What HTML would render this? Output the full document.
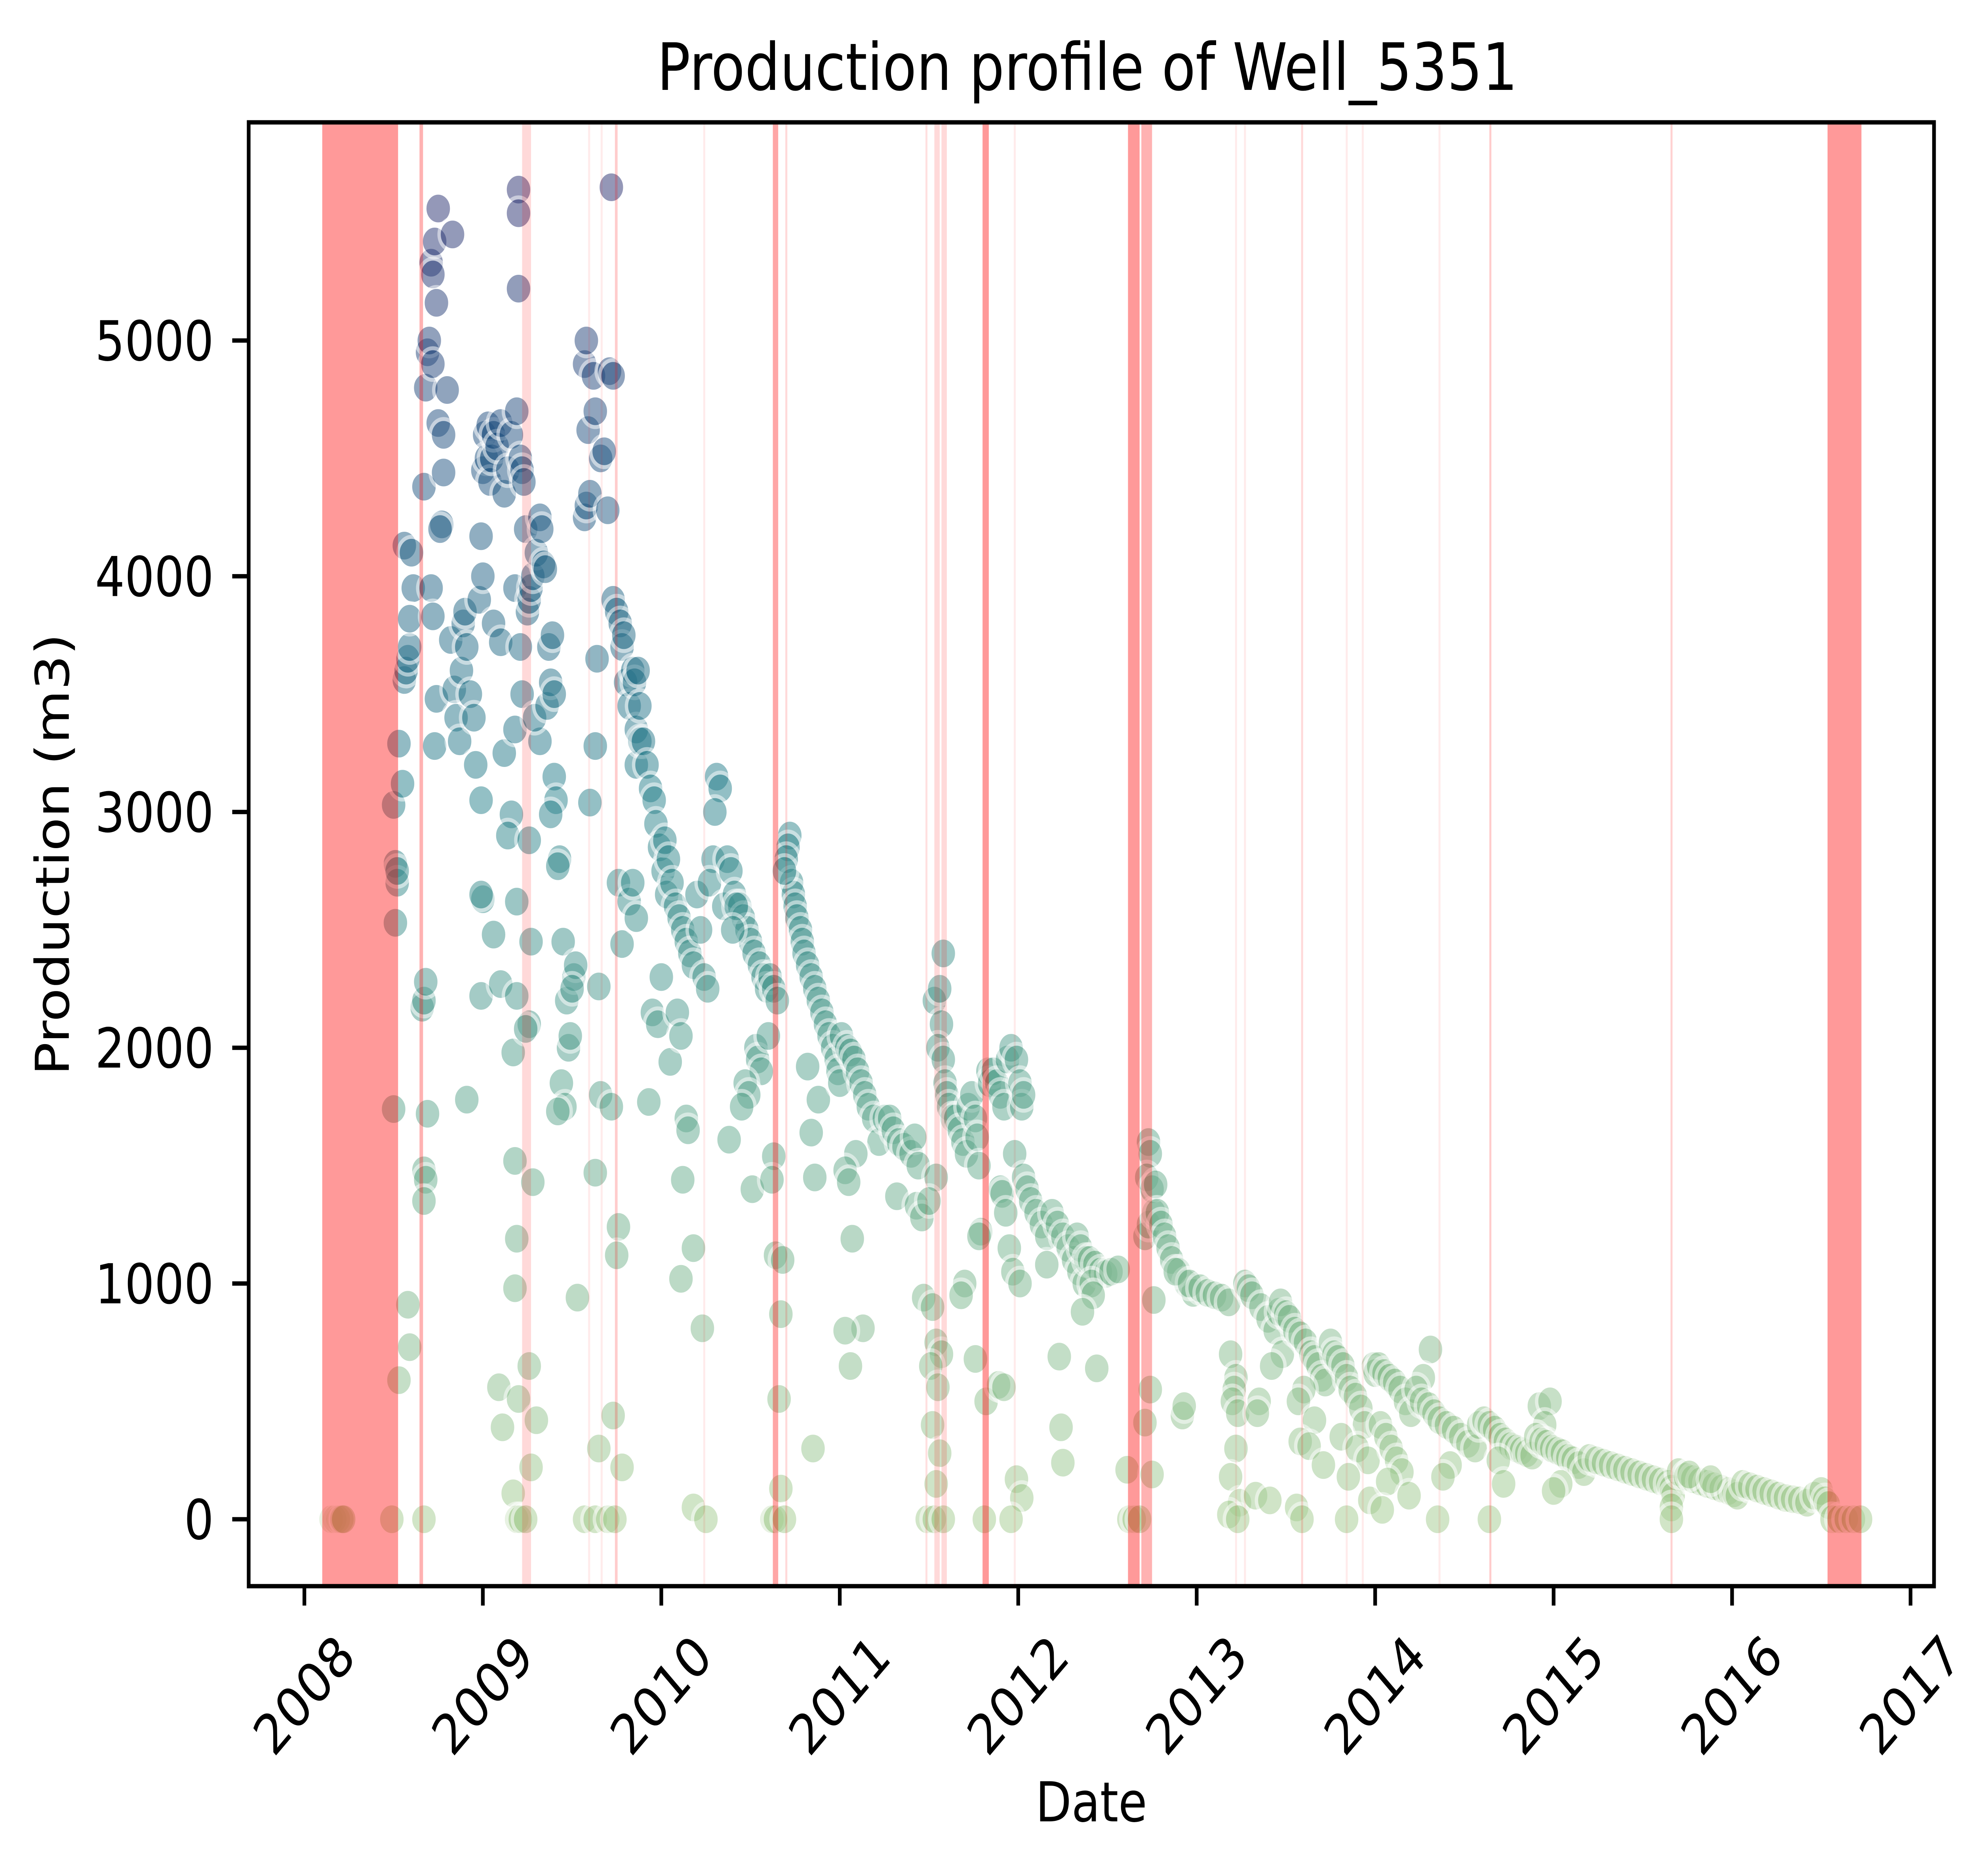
<!DOCTYPE html>
<html><head><meta charset="utf-8">
<style>
html,body{margin:0;padding:0;background:#fff;width:100%;height:100%;overflow:hidden;}
svg{display:block;width:100vw;height:100vh;}
text{font-family:"DejaVu Sans","Liberation Sans",sans-serif;fill:#000;}
</style></head>
<body>
<svg id="chart" xmlns="http://www.w3.org/2000/svg" viewBox="0 0 5900 4738" preserveAspectRatio="none">
<rect width="5900" height="4738" fill="#fff"/>
<text x="3240" y="227" font-size="165" text-anchor="middle">Production profile of Well_5351</text>
<g id="points"></g>
<g id="spans"></g>
<g id="axes"></g>
<text x="3252" y="4600" font-size="139" text-anchor="middle">Date</text>
<text x="0" y="0" font-size="139" text-anchor="middle" transform="translate(205,2158) rotate(-90)">Production (m3)</text>
</svg>
<script>
const yearTicks = [2008,2009,2010,2011,2012,2013,2014,2015,2016,2017];
const valueTicks = [0,1000,2000,3000,4000,5000];
const spanStarts = [2008.10,2008.645,2009.22,2009.59,2009.66,2009.74,2010.235,2010.625,2010.695,2011.48,2011.53,2011.57,2011.80,2011.975,2012.615,2012.69,2013.215,2013.265,2013.585,2013.835,2013.925,2014.355,2014.64,2015.655,2016.535];
const spanEnds   = [2008.525,2008.665,2009.27,2009.60,2009.67,2009.755,2010.245,2010.655,2010.705,2011.49,2011.56,2011.60,2011.835,2011.985,2012.68,2012.75,2013.225,2013.275,2013.595,2013.845,2013.935,2014.365,2014.65,2015.665,2016.725];
const spanAlpha  = [0.4,0.3,0.15,0.08,0.08,0.2,0.08,0.35,0.15,0.12,0.15,0.15,0.4,0.08,0.4,0.3,0.08,0.08,0.15,0.08,0.08,0.08,0.2,0.18,0.4];

const dates = [
2008.15,2008.17,2008.19,2008.21,2008.22,2008.49,
2008.50,2008.51,2008.52,2008.52,2008.51,2008.50,2008.53,2008.53,2008.55,2008.56,2008.57,2008.58,2008.59,2008.56,2008.60,2008.61,2008.59,2008.58,2008.59,
2008.66,2008.67,2008.68,2008.69,2008.67,2008.68,2008.67,2008.67,2008.67,2008.68,2008.69,2008.70,2008.71,2008.72,2008.73,2008.75,2008.83,2008.74,2008.72,2008.75,2008.78,2008.80,2008.78,2008.77,2008.76,2008.71,2008.74,2008.73,2008.72,
2008.82,2008.84,2008.85,2008.87,2008.88,2008.89,2008.90,2008.91,2008.93,2008.95,2008.91,2008.96,2008.99,2009.00,2008.99,2008.99,2009.00,2009.01,2009.03,2009.02,2008.99,2008.98,2009.00,
2009.04,2009.05,2009.06,2009.08,2009.10,2009.12,2009.14,2009.16,2009.19,2009.20,2009.20,2009.20,2009.18,2009.06,2009.10,2009.12,2009.18,2009.16,2009.14,2009.19,2009.06,2009.10,2009.17,2009.19,2009.18,2009.19,2009.18,2009.09,2009.11,2009.20,2009.17,2009.19,2009.21,
2009.21,2009.22,2009.23,2009.24,2009.25,2009.26,2009.27,2009.28,2009.30,2009.32,2009.33,2009.34,2009.35,2009.21,2009.22,2009.26,2009.27,2009.26,2009.24,2009.28,2009.26,2009.30,2009.27,2009.24,2009.32,2009.29,
2009.36,2009.38,2009.40,2009.40,2009.41,2009.38,2009.37,2009.39,2009.43,2009.42,2009.45,2009.47,2009.48,2009.44,2009.46,2009.42,2009.51,2009.52,2009.50,2009.49,2009.53,2009.57,
2009.57,2009.58,2009.60,2009.59,2009.57,2009.58,2009.62,2009.63,2009.66,2009.68,2009.70,2009.64,2009.63,2009.60,2009.65,2009.63,2009.66,2009.65,2009.63,2009.70,2009.72,2009.71,2009.73,
2009.73,2009.75,2009.77,2009.78,2009.80,2009.82,2009.84,2009.79,2009.86,2009.76,2009.82,2009.78,2009.72,2009.76,2009.75,2009.73,2009.78,2009.74,2009.86,2009.88,
2009.85,2009.87,2009.88,2009.90,2009.92,2009.94,2009.96,2009.97,2009.99,2010.01,2010.03,2009.84,2009.86,2010.00,2009.95,2009.98,2009.93,2010.05,2010.02,2010.04,
2010.06,2010.08,2010.10,2010.12,2010.14,2010.16,2010.18,2010.20,2010.22,2010.24,2010.26,2010.09,2010.11,2010.14,2010.15,2010.12,2010.18,2010.11,2010.23,2010.18,2010.25,2010.31,2010.33,2010.30,2010.29,2010.27,2010.35,
2010.37,2010.39,2010.41,2010.44,2010.46,2010.48,2010.50,2010.52,2010.55,2010.57,2010.59,2010.42,2010.40,2010.53,2010.54,2010.56,2010.47,2010.49,2010.45,2010.38,2010.51,2010.62,
2010.61,2010.63,2010.65,2010.60,2010.63,2010.62,2010.64,2010.68,2010.67,2010.66,2010.67,2010.64,2010.69,2010.72,2010.71,2010.70,2010.73,2010.74,2010.75,2010.69,
2010.76,2010.78,2010.79,2010.80,2010.82,2010.84,2010.86,2010.88,2010.90,2010.92,2010.94,2010.96,2010.98,2010.99,2010.88,2010.84,2010.86,2010.82,2010.85,2011.00,
2011.01,2011.04,2011.06,2011.08,2011.10,2011.12,2011.14,2011.16,2011.19,2011.22,2011.09,2011.03,2011.05,2011.07,2011.13,2011.03,2011.06,2011.25,
2011.28,2011.30,2011.33,2011.36,2011.40,2011.42,2011.44,2011.32,2011.43,2011.46,2011.47,2011.49,
2011.53,2011.56,2011.58,2011.57,2011.55,2011.58,2011.59,2011.60,2011.61,2011.63,2011.54,2011.50,2011.52,2011.54,2011.57,2011.51,2011.55,2011.52,2011.56,2011.54,2011.53,2011.58,
2011.65,2011.67,2011.69,2011.71,2011.72,2011.74,2011.76,2011.77,2011.78,2011.79,2011.78,2011.70,2011.68,2011.76,2011.82,2011.81,2011.83,2011.84,
2011.86,2011.88,2011.90,2011.92,2011.94,2011.96,2011.99,2012.01,2012.02,2012.03,2011.98,2011.90,2011.91,2011.93,2011.95,2011.97,2012.01,2011.89,2011.92,2011.99,2012.02,2011.96,
2012.03,2012.05,2012.07,2012.10,2012.13,2012.16,2012.19,2012.22,2012.25,2012.28,2012.31,2012.34,2012.37,2012.16,2012.23,2012.24,2012.25,2012.33,2012.35,2012.38,
2012.40,2012.43,2012.46,2012.49,2012.41,2012.42,2012.36,2012.44,2012.52,2012.56,
2012.62,2012.65,2012.68,2012.61,2012.73,2012.74,2012.72,2012.75,2012.71,2012.73,2012.76,2012.77,2012.76,2012.74,2012.75,2012.71,
2012.78,2012.80,2012.82,2012.84,2012.86,2012.90,2012.94,2012.98,2012.92,2012.93,2012.88,2012.96,
2013.02,2013.06,2013.10,2013.14,2013.18,2013.19,2013.22,2013.21,2013.20,2013.23,2013.22,2013.19,2013.24,2013.18,2013.23,
2013.27,2013.29,2013.31,2013.36,2013.40,2013.44,2013.46,2013.48,2013.42,2013.35,2013.34,2013.33,2013.41,2013.47,2013.50,
2013.52,2013.55,2013.58,2013.61,2013.64,2013.66,2013.68,2013.70,2013.72,2013.60,2013.57,2013.66,2013.58,2013.63,2013.71,2013.56,2013.59,
2013.75,2013.77,2013.79,2013.82,2013.84,2013.86,2013.89,2013.92,2013.94,2013.81,2013.90,2013.96,2013.85,2013.97,2013.84,2013.99,2014.00,
2014.02,2014.05,2014.08,2014.11,2014.14,2014.17,2014.20,2014.03,2014.06,2014.09,2014.12,2014.15,2014.07,2014.19,2014.04,2014.31,2014.27,
2014.23,2014.26,2014.30,2014.33,2014.36,2014.40,2014.44,2014.48,2014.52,2014.56,2014.42,2014.38,2014.35,2014.58,
2014.61,2014.64,2014.67,2014.70,2014.73,2014.76,2014.79,2014.82,2014.85,2014.88,2014.69,2014.72,2014.64,
2014.92,2014.98,2014.95,2014.90,2014.93,2014.96,2014.99,2015.02,2015.05,2015.08,2015.11,2015.14,2015.17,2015.04,2015.00,
2015.20,2015.24,2015.28,2015.32,2015.36,2015.40,2015.44,2015.48,2015.52,2015.56,2015.60,2015.64,2015.66,2015.67,2015.66,2015.66,
2015.70,2015.74,2015.78,2015.82,2015.86,2015.90,2015.94,2015.98,2016.01,2016.03,2015.76,2015.88,
2016.06,2016.10,2016.14,2016.18,2016.22,2016.26,2016.30,2016.34,2016.38,2016.42,2016.46,2016.50,
2016.52,2016.54,2016.56,2016.60,2016.64,2016.68,2016.72
];
const production = [
0,0,0,0,0,0,
3030,2780,2700,2750,2530,1740,590,3290,3120,3560,3600,3650,3700,4130,4100,3950,3820,910,730,
2170,2200,2280,1720,1480,1440,1350,0,4380,4800,4950,5000,5330,5280,5420,5560,5450,5160,4900,4650,4600,4790,4440,4220,4200,3950,3480,3280,3830,
3730,3520,3400,3300,3600,3800,3850,3700,3500,3400,1780,3200,3050,2630,2650,2220,4450,4600,4640,4500,4170,3900,4000,
4400,4500,4600,4550,4650,4350,4450,4600,4700,5640,5540,5220,3950,3800,3720,3250,3350,2990,2900,2620,2480,2270,1980,2220,1520,1190,980,560,390,510,110,0,0,
4500,4450,4400,4200,3850,3900,3950,4000,4100,4250,4200,4050,4030,3700,3500,2880,2450,2100,2080,1430,650,420,220,0,3300,3400,
3450,3550,3500,3150,3050,2990,3700,3750,2800,2770,2450,2200,2000,1850,1750,1730,2300,2350,2250,2050,940,0,
4250,4300,4350,4620,4900,5000,4850,4700,4500,4530,4280,3650,3280,3040,2260,1470,1800,300,0,0,5650,4870,4850,
3900,3850,3800,3700,3550,3450,3600,3750,3350,2700,2620,2440,1750,1240,1120,440,220,0,3200,3300,
3550,3600,3450,3300,3200,3100,3050,2950,2850,2750,2650,2700,2550,2300,2150,2100,1770,1940,2880,2800,
2700,2600,2550,2500,2450,2400,2350,2650,2500,2300,2250,2150,2050,1700,1650,1440,1150,1020,810,50,0,3150,3100,3000,2800,2700,2600,
2800,2750,2650,2600,2550,2500,2450,2400,2350,2300,2250,2600,2500,2000,1950,1900,1850,1800,1750,1610,1400,0,
2300,2250,2200,2050,1540,1440,1120,1100,870,510,130,0,0,2900,2850,2800,2700,2650,2600,2750,
2550,2500,2450,2400,2350,2300,2250,2200,2150,2100,2050,2000,1950,1900,1780,1640,1450,1920,300,1850,
2050,2000,1980,1950,1900,1850,1800,1750,1700,1600,1550,1480,1430,1190,810,800,650,1700,
1700,1650,1600,1580,1550,1620,1500,1370,1330,1280,940,0,
2200,2250,2400,2100,2000,1950,1850,1800,1750,1700,1450,1350,900,750,700,650,560,400,280,150,0,0,
1700,1650,1600,1550,1750,1800,1700,1620,1500,1220,1200,1000,950,680,500,0,1900,1850,
1900,1850,1800,1750,1950,2000,1950,1850,1750,1800,1550,1400,1380,1300,1150,1050,1000,570,560,170,90,0,
1450,1400,1350,1300,1250,1200,1300,1250,1200,1150,1100,1050,1000,1080,690,390,240,1200,1150,1100,
1100,1080,1050,1040,1000,950,880,640,1050,1060,
0,0,0,210,1600,1550,1450,1400,1200,1250,1300,1420,930,550,190,410,
1300,1250,1200,1150,1100,1050,1000,960,440,480,1050,1000,
980,960,950,940,920,700,600,550,500,450,300,180,70,20,0,
1000,980,950,900,850,800,880,700,650,500,450,100,80,920,870,
850,800,780,750,700,680,650,600,580,550,500,420,330,310,230,50,0,
750,700,680,650,600,550,520,470,400,350,300,250,180,80,0,650,620,
650,620,600,580,550,500,450,400,350,300,250,200,160,100,40,720,600,
550,500,480,450,420,400,380,350,320,300,230,180,0,400,
420,400,380,350,330,310,300,290,280,270,250,150,0,
480,500,400,350,330,320,300,290,280,260,250,230,200,150,120,
260,250,240,230,220,210,200,190,180,170,160,150,130,100,50,0,
200,180,170,160,150,140,130,120,110,100,190,170,
150,140,130,120,110,100,90,85,80,70,100,120,
80,60,0,0,0,0,0
];

const NS = "http://www.w3.org/2000/svg";
const AX = {left:741, right:5763, top:309, bottom:4006};
const X0 = 907, X1 = 5693; // pixel of 2008, 2017
const Y0 = 3837, Y5 = 860; // pixel of 0, 5000
function xScale(yr){ return X0 + (yr - 2008) * (X1 - X0) / 9; }
function yScale(v){ return Y0 + v * (Y5 - Y0) / 5000; }

const stops = [[0,[165,205,144]],[0.3,[96,168,143]],[0.55,[40,128,140]],[0.8,[33,84,130]],[1,[44,49,114]]];
function color(v){
  const t = Math.max(0, Math.min(1, v / 5650));
  for (let i = 1; i < stops.length; i++) {
    if (t <= stops[i][0]) {
      const a = stops[i-1], b = stops[i];
      const f = (t - a[0]) / (b[0] - a[0]);
      const c = a[1].map((x, k) => Math.round(x + (b[1][k] - x) * f));
      return "rgb(" + c.join(",") + ")";
    }
  }
  return "rgb(44,49,114)";
}

const gp = document.getElementById("points");
const n = Math.min(dates.length, production.length);
for (let i = 0; i < n; i++) {
  const c = document.createElementNS(NS, "circle");
  c.setAttribute("cx", xScale(dates[i]).toFixed(1));
  c.setAttribute("cy", yScale(production[i]).toFixed(1));
  c.setAttribute("r", 40);
  c.setAttribute("fill", color(production[i]));
  c.setAttribute("stroke", "#fff");
  c.setAttribute("stroke-width", 10);
  c.setAttribute("opacity", 0.5);
  
  
  gp.appendChild(c);
}

const gs = document.getElementById("spans");
for (let i = 0; i < spanStarts.length; i++) {
  const r = document.createElementNS(NS, "rect");
  const x0 = xScale(spanStarts[i]), x1 = xScale(spanEnds[i]);
  r.setAttribute("x", x0.toFixed(1));
  r.setAttribute("y", AX.top);
  r.setAttribute("width", Math.max(6, x1 - x0).toFixed(1));
  r.setAttribute("height", AX.bottom - AX.top);
  r.setAttribute("fill", "rgba(255,0,0," + spanAlpha[i] + ")");
  
  
  gs.appendChild(r);
}

const ga = document.getElementById("axes");
const frame = document.createElementNS(NS, "rect");
frame.setAttribute("x", AX.left); frame.setAttribute("y", AX.top);
frame.setAttribute("width", AX.right - AX.left); frame.setAttribute("height", AX.bottom - AX.top);
frame.setAttribute("fill", "none"); frame.setAttribute("stroke", "#000"); frame.setAttribute("stroke-width", 11);


ga.appendChild(frame);

for (const yr of yearTicks) {
  const x = xScale(yr);
  const t = document.createElementNS(NS, "line");
  t.setAttribute("x1", x); t.setAttribute("x2", x);
  t.setAttribute("y1", AX.bottom); t.setAttribute("y2", AX.bottom + 49);
  t.setAttribute("stroke", "#000"); t.setAttribute("stroke-width", 11);
  
  
  ga.appendChild(t);
  const lb = document.createElementNS(NS, "text");
  lb.setAttribute("x", 0); lb.setAttribute("y", 0);
  lb.setAttribute("font-size", 139);
  lb.setAttribute("text-anchor", "middle");
  lb.setAttribute("dominant-baseline", "central");
  lb.setAttribute("transform", "translate(" + x + ",4282) rotate(-45)");
  lb.textContent = String(yr);
  
  
  ga.appendChild(lb);
}
for (const v of valueTicks) {
  const y = yScale(v);
  const t = document.createElementNS(NS, "line");
  t.setAttribute("x1", AX.left - 49); t.setAttribute("x2", AX.left);
  t.setAttribute("y1", y); t.setAttribute("y2", y);
  t.setAttribute("stroke", "#000"); t.setAttribute("stroke-width", 11);
  
  
  ga.appendChild(t);
  const lb = document.createElementNS(NS, "text");
  lb.setAttribute("x", AX.left - 104);
  lb.setAttribute("y", y + 50);
  lb.setAttribute("font-size", 139);
  lb.setAttribute("text-anchor", "end");
  lb.textContent = String(v);
  
  
  ga.appendChild(lb);
}
</script>
</body></html>
